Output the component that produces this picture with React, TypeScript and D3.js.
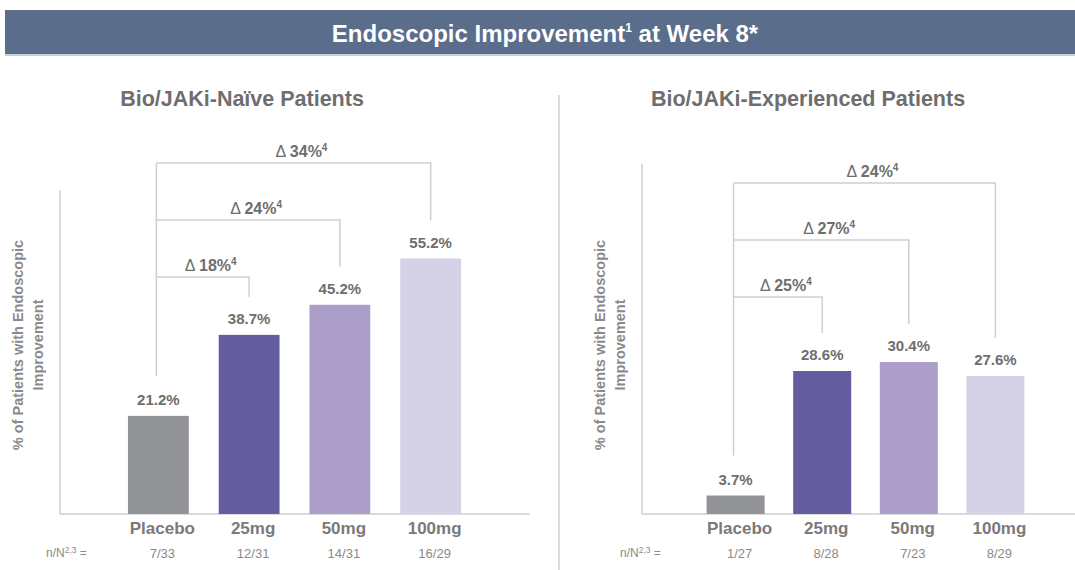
import React from "react";
import * as d3 from "d3";

// chart data
const categories = ["Placebo", "25mg", "50mg", "100mg"];
const naiveValues = [21.2, 38.7, 45.2, 55.2];
const experiencedValues = [3.7, 28.6, 30.4, 27.6];
const naiveCounts = ["7/33", "12/31", "14/31", "16/29"];
const experiencedCounts = ["1/27", "8/28", "7/23", "8/29"];
// deltas vs placebo, for 25mg / 50mg / 100mg
const naiveDeltas = ["18%", "24%", "34%"];
const experiencedDeltas = ["25%", "27%", "24%"];
const yDomain = [0, 70];

const colors = ["#929397", "#635c9e", "#ab9fca", "#d5d1e6"];
const textGray = "#6e6e6e";
const lineGray = "#cfcfcf";
const font = "Liberation Sans, Arial, sans-serif";

const width = 1075;
const height = 570;

type PanelProps = {
  title: string;
  titleX: number;
  values: number[];
  counts: string[];
  deltas: string[];
  axisX: number;
  axisTop: number;
  baseEnd: number;
  xRange: [number, number];
  bracketTop: number;
  nLabelX: number;
};

const Panel = ({
  title,
  titleX,
  values,
  counts,
  deltas,
  axisX,
  axisTop,
  baseEnd,
  xRange,
  bracketTop,
  nLabelX,
}: PanelProps) => {
  const baseY = 514;
  const x = d3.scaleBand().domain(categories).range(xRange).padding(0.33);
  const y = d3.scaleLinear().domain(yDomain).range([baseY, axisTop]);
  const cx = (c: string) => (x(c) as number) + x.bandwidth() / 2;

  const px = cx(categories[0]) - 2;
  const bracketStep = 57;
  const bracketLevels = deltas.map((d, i) => bracketTop + (deltas.length - 1 - i) * bracketStep);

  return (
    <g>
      <text
        x={titleX}
        y={106}
        textAnchor="middle"
        fontSize={21.5}
        fontWeight="bold"
        fill={textGray}
      >
        {title}
      </text>

      {/* axes */}
      <line x1={axisX} x2={axisX} y1={axisTop} y2={baseY} stroke={lineGray} strokeWidth={1.5} />
      <line x1={axisX} x2={baseEnd} y1={baseY} y2={baseY} stroke={lineGray} strokeWidth={1.5} />

      <text
        transform={`translate(${axisX - 37}, 345) rotate(-90)`}
        textAnchor="middle"
        fontSize={14.5}
        fontWeight="bold"
        fill="#8a8a8a"
      >
        <tspan x={0} dy={0}>% of Patients with Endoscopic</tspan>
        <tspan x={0} dy={20}>Improvement</tspan>
      </text>

      {/* bars */}
      {categories.map((c, i) => (
        <g key={c}>
          <rect
            x={x(c)}
            y={y(values[i])}
            width={x.bandwidth()}
            height={baseY - y(values[i])}
            fill={colors[i]}
          />
          <text
            x={cx(c)}
            y={y(values[i]) - 11}
            textAnchor="middle"
            fontSize={15}
            fontWeight="bold"
            fill={textGray}
          >
            {values[i].toFixed(1)}%
          </text>
          <text
            x={cx(c) + 4}
            y={534}
            textAnchor="middle"
            fontSize={17}
            fontWeight="bold"
            fill="#7a7a7a"
          >
            {c}
          </text>
          <text x={cx(c) + 4} y={558} textAnchor="middle" fontSize={13} fill="#8a8a8a">
            {counts[i]}
          </text>
        </g>
      ))}

      {/* brackets vs placebo */}
      <line
        x1={px}
        x2={px}
        y1={bracketTop}
        y2={y(values[0]) - 40}
        stroke={lineGray}
        strokeWidth={1.5}
      />
      {deltas.map((d, i) => {
        const c = categories[i + 1];
        const ly = bracketLevels[i];
        const ex = cx(c);
        return (
          <g key={c}>
            <polyline
              points={`${px},${ly} ${ex},${ly} ${ex},${y(values[i + 1]) - 38}`}
              fill="none"
              stroke={lineGray}
              strokeWidth={1.5}
            />
            <text
              x={(px + ex) / 2 + 8}
              y={ly - 6}
              textAnchor="middle"
              fontSize={16}
              fill={textGray}
            >
              <tspan fontWeight="normal">Δ </tspan>
              <tspan fontWeight="bold">{d}</tspan>
              <tspan fontSize={10} dy={-6} fontWeight="bold">4</tspan>
            </text>
          </g>
        );
      })}

      <text x={nLabelX} y={557} fontSize={12} fill="#8a8a8a">
        n/N<tspan fontSize={8.5} dy={-4}>2,3</tspan>
        <tspan dy={4}> =</tspan>
      </text>
    </g>
  );
};

const App = () => {
  return (
    <svg
      width={width}
      height={height}
      style={{ position: "absolute", left: 0, top: 0, background: "#fff", fontFamily: font }}
    >
      <rect x={5} y={10} width={width - 5} height={44} fill="#5a6d8b" />
      <rect x={5} y={54} width={width - 5} height={2} fill="#c9d0dc" />
      <text
        x={545}
        y={42}
        textAnchor="middle"
        fontSize={24}
        fontWeight="bold"
        fill="#fff"
      >
        Endoscopic Improvement<tspan fontSize={12} dy={-10}>1</tspan>
        <tspan dy={10}> at Week 8*</tspan>
      </text>

      <line x1={559} x2={559} y1={95} y2={height} stroke={lineGray} strokeWidth={1.5} />

      <Panel
        title="Bio/JAKi-Naïve Patients"
        titleX={242}
        values={naiveValues}
        counts={naiveCounts}
        deltas={naiveDeltas}
        axisX={60}
        axisTop={190}
        baseEnd={530}
        xRange={[98, 491]}
        bracketTop={163}
        nLabelX={46}
      />
      <Panel
        title="Bio/JAKi-Experienced Patients"
        titleX={808}
        values={experiencedValues}
        counts={experiencedCounts}
        deltas={experiencedDeltas}
        axisX={642}
        axisTop={164}
        baseEnd={1075}
        xRange={[678, 1053]}
        bracketTop={183}
        nLabelX={620}
      />
    </svg>
  );
};

export default App;
